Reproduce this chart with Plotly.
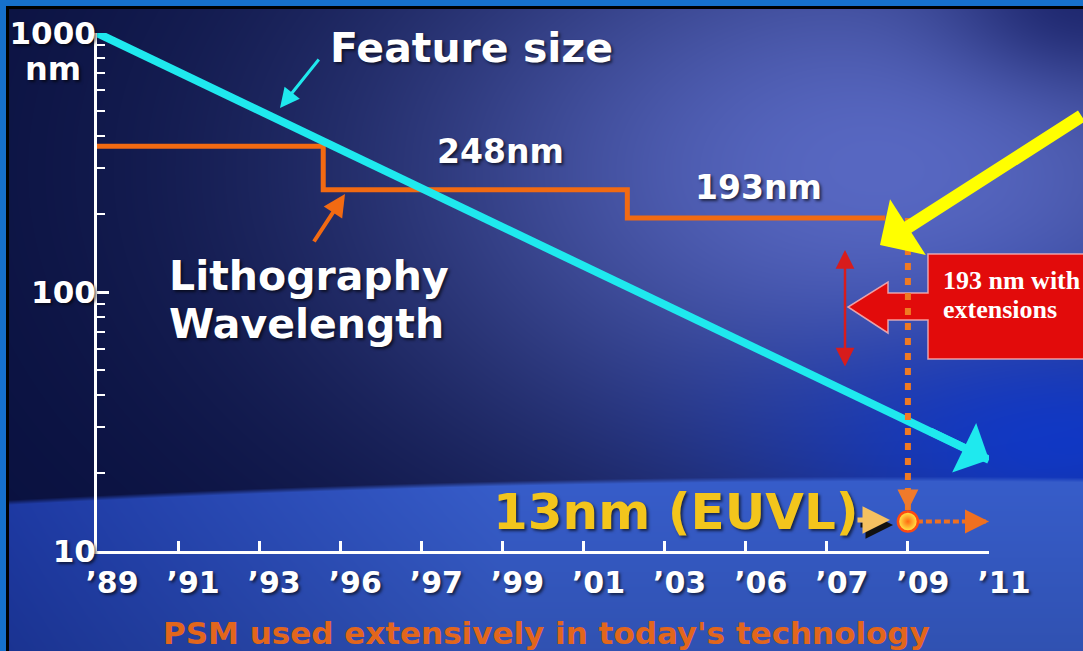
import base64
import struct
import zlib

import numpy as np
import plotly.graph_objects as go

W, H = 1083, 651

# ---------------- data ----------------
year_labels = ["’89", "’91", "’93", "’96", "’97", "’99", "’01", "’03", "’06", "’07", "’09", "’11"]
year_pos = list(range(len(year_labels)))

# minimum feature size (nm), start and end of the trend arrow
feature_x = [0, 11]
feature_nm = [1000, 22.5]

# lithography wavelength steps (nm)
litho_x = [0, 2.79, 6.54, 9.72]
litho_nm = [365, 248, 193, 193]

# 193 nm extension dropping to EUV, then EUV continuing
ext_x = [10, 10]
ext_nm = [193, 13]
euv_x = [10, 11]
euv_nm = [13, 13]

y_major = [10, 100, 1000]
y_minor = [20, 30, 40, 50, 60, 70, 80, 90, 200, 300, 400, 500, 600, 700, 800, 900]

CYAN = "#1fe9ee"
ORANGE = "#f26a12"
YELLOW = "#ffff00"
GOLD = "#f3c51c"
RED = "#e20b0b"
FONT = "DejaVu Sans"
SHADOW = "2px 2px 3px rgba(0,0,0,0.6)"


def px(x):
    return x / W


def py(y):
    return 1 - y / H


# ---------------- slide background ----------------
def background():
    yy, xx = np.mgrid[0:H, 0:W].astype(float)
    dark = np.array([9, 16, 62], float)
    light = np.array([88, 104, 194], float)
    blue = np.array([14, 56, 204], float)
    f = np.exp(-((xx - 880) / 520) ** 2 - ((yy - 170) / 320) ** 2)
    img = dark + f[..., None] * (light - dark)
    g = 0.9 * np.exp(-((xx - 1060) / 300) ** 2 - ((yy - 440) / 120) ** 2)
    img = img * (1 - g[..., None]) + blue * g[..., None]
    k = 0.75 * np.exp(-((xx - 1083) / 130) ** 2 - (yy / 80) ** 2)
    img = img * (1 - k[..., None]) + np.array([22, 30, 100], float) * k[..., None]

    # lit horizon band across the bottom
    hz = 476 + 24 * ((xx - 900) / 900) ** 2
    t = np.clip((yy - hz) / 5, 0, 1)[..., None]
    left_c = np.array([30, 58, 165], float)
    right_c = np.array([55, 93, 202], float)
    s = np.clip(xx / 500, 0, 1)[..., None]
    band = left_c + s * (right_c - left_c)
    band = band * (1 - 0.12 * np.clip((yy - 480) / 170, 0, 1))[..., None]
    img = img * (1 - t) + band * t

    # slide frame: blue edge and black rule on top / left
    img[:6, :] = (22, 112, 204)
    img[:, :6] = (22, 112, 204)
    img[6:9, 6:] = 0
    img[6:, 6:9] = 0
    return np.clip(img, 0, 255).astype(np.uint8)


def png_data_uri(rgb):
    h, w, _ = rgb.shape
    raw = b"".join(b"\x00" + rgb[i].tobytes() for i in range(h))

    def chunk(tag, data):
        body = tag + data
        return struct.pack(">I", len(data)) + body + struct.pack(">I", zlib.crc32(body) & 0xFFFFFFFF)

    png = (b"\x89PNG\r\n\x1a\n"
           + chunk(b"IHDR", struct.pack(">IIBBBBB", w, h, 8, 2, 0, 0, 0))
           + chunk(b"IDAT", zlib.compress(raw, 9))
           + chunk(b"IEND", b""))
    return "data:image/png;base64," + base64.b64encode(png).decode()


# ---------------- figure ----------------
fig = go.Figure()

fig.add_trace(go.Scatter(
    x=litho_x, y=litho_nm, mode="lines",
    line=dict(color=ORANGE, width=5, shape="hv"), hoverinfo="skip"))

fig.add_trace(go.Scatter(
    x=feature_x, y=feature_nm, mode="lines",
    line=dict(color=CYAN, width=8), hoverinfo="skip"))

fig.add_trace(go.Scatter(
    x=ext_x, y=ext_nm, mode="lines",
    line=dict(color="#f07a22", width=6, dash="7px,8px"), hoverinfo="skip"))

fig.add_trace(go.Scatter(
    x=euv_x, y=euv_nm, mode="lines",
    line=dict(color="#f07020", width=4, dash="6px,3px"), hoverinfo="skip"))

fig.add_trace(go.Scatter(
    x=euv_x[:1], y=euv_nm[:1], mode="markers",
    marker=dict(size=20, color="#fff04a",
                gradient=dict(type="radial", color="#ff6a10"),
                line=dict(color="#ff4a10", width=2.5)),
    hoverinfo="skip"))

fig.update_xaxes(
    range=[0, 11], domain=[px(97), px(989)],
    tickmode="array", tickvals=year_pos, ticktext=year_labels,
    showline=True, linecolor="white", linewidth=3,
    ticks="inside", ticklen=10, tickwidth=2.5, tickcolor="white",
    ticklabelshift=15, ticklabelstandoff=3,
    tickfont=dict(family=FONT, size=30, color="white", weight="bold", shadow=SHADOW),
    showgrid=False, zeroline=False, fixedrange=True, automargin=False)

fig.update_yaxes(
    type="log", range=[1, 3], domain=[py(551), py(33)],
    tickmode="array", tickvals=y_major, ticktext=[str(v) for v in y_major],
    showline=True, linecolor="white", linewidth=3,
    ticks="inside", ticklen=12, tickwidth=2.5, tickcolor="white",
    minor=dict(tickmode="array", tickvals=y_minor, ticks="inside",
               ticklen=8, tickwidth=2, tickcolor="white"),
    ticklabelstandoff=-8,
    tickfont=dict(family=FONT, size=31, color="white", weight="bold", shadow=SHADOW),
    showgrid=False, zeroline=False, fixedrange=True, automargin=False)


def text(t, x, y, size, color="white", xanchor="center", family=FONT, shadow=SHADOW):
    return dict(text=t, x=px(x), y=py(y), xref="paper", yref="paper",
                xanchor=xanchor, yanchor="middle", showarrow=False,
                font=dict(family=family, size=size, color=color, weight="bold", shadow=shadow))


def arrow_paper(x, y, ax, ay, color, width, head=2, size=1.0, **kw):
    return dict(text="", x=px(x), y=py(y), xref="paper", yref="paper",
                ax=ax, ay=ay, showarrow=True, arrowhead=head, arrowsize=size,
                arrowwidth=width, arrowcolor=color, **kw)


annotations = [
    text("Feature size", 328, 48, 41, xanchor="left"),
    text("248nm", 500, 152, 33),
    text("193nm", 758, 187, 33),
    text("Lithography", 167, 276, 41, xanchor="left"),
    text("Wavelength", 167, 324, 41, xanchor="left"),
    text("nm", 53, 69, 32),
    text("13nm (EUVL)", 491, 512, 50, color=GOLD, xanchor="left"),
    text("PSM used extensively in today's technology", 546, 633, 31,
         color="#e2661c", shadow="none"),
    text("193 nm with", 941, 280, 26, xanchor="left",
         family="Liberation Serif", shadow="none"),
    text("extensions", 941, 309, 26, xanchor="left",
         family="Liberation Serif", shadow="none"),
    # pointers to the curves
    arrow_paper(280, 108, 40, -50, CYAN, 3, head=2, size=1.3),
    arrow_paper(345, 194, -32, 49, ORANGE, 4, head=2, size=1.1),
    # range of 193 nm extensions
    arrow_paper(845, 250, 0, 118, "#d81c1c", 2.5, head=2, size=1.5,
                arrowside="end+start", startarrowhead=2, startarrowsize=1.5),
    # EUV pointer with drop shadow
    arrow_paper(893, 525, -34, 0, "#111111", 5, head=2, size=1.1),
    arrow_paper(890, 520, -34, 0, "#f5c060", 5, head=2, size=1.1),
    # big callout arrow
    arrow_paper(880, 245, 240, -130, YELLOW, 13, head=1, size=0.85),
    # heads on the data lines
    dict(text="", x=feature_x[-1], y=np.log10(feature_nm[-1]), xref="x", yref="y",
         ax=-60, ay=-29, showarrow=True, arrowhead=1, arrowwidth=8, arrowsize=1.15,
         arrowcolor=CYAN),
    dict(text="", x=ext_x[-1], y=np.log10(ext_nm[-1]), xref="x", yref="y",
         ax=0, ay=-34, showarrow=True, arrowhead=2, arrowwidth=3, arrowsize=1.4,
         standoff=11, arrowcolor="#f07a2a"),
    dict(text="", x=euv_x[-1], y=np.log10(euv_nm[-1]), xref="x", yref="y",
         ax=-14, ay=0, showarrow=True, arrowhead=2, arrowwidth=3, arrowsize=1.6,
         arrowcolor="#f07020"),
]

# red callout box with left-pointing arrow
callout = [(928, 254), (1090, 254), (1090, 359), (928, 359), (928, 320), (888, 320),
           (888, 333), (848, 307), (888, 282), (888, 293), (928, 293)]
path = "M " + " L ".join(f"{px(x):.5f},{py(y):.5f}" for x, y in callout) + " Z"

fig.update_layout(
    width=W, height=H,
    margin=dict(l=0, r=0, t=0, b=0, pad=0, autoexpand=False),
    paper_bgcolor="#0b1450", plot_bgcolor="rgba(0,0,0,0)",
    showlegend=False,
    images=[dict(source=png_data_uri(background()), xref="paper", yref="paper",
                 x=0, y=1, sizex=1, sizey=1, xanchor="left", yanchor="top",
                 sizing="stretch", layer="below")],
    shapes=[dict(type="path", path=path, xref="paper", yref="paper",
                 fillcolor=RED, line=dict(color="rgba(255,190,190,0.8)", width=1.5),
                 layer="below")],
    annotations=annotations,
)

fig.write_html("out.html")
